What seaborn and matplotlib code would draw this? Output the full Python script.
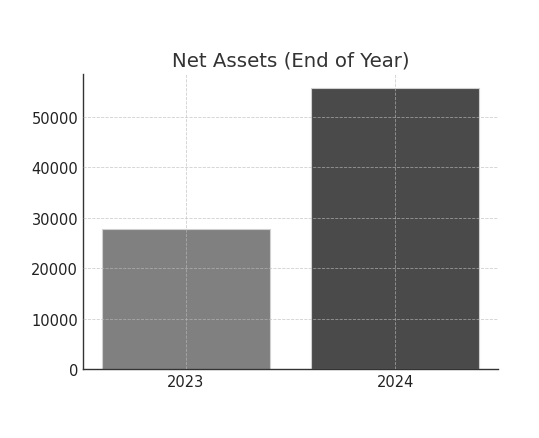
import matplotlib
matplotlib.use("Agg")
import matplotlib.pyplot as plt
import seaborn as sns
import pandas as pd

# Net assets at end of year
years = ["2023", "2024"]
net_assets = [27700, 55700]
bar_colors = ["#808080", "#4a4a4a"]

df = pd.DataFrame({"Year": years, "Net Assets": net_assets})

sns.set_style("white")
plt.rcParams['font.family'] = ['DejaVu Sans']

fig = plt.figure(figsize=(5.39, 4.39), dpi=100)
ax = fig.add_axes([0.154, 0.157, 0.77, 0.672])

sns.barplot(data=df, x="Year", y="Net Assets", hue="Year", palette=bar_colors,
            saturation=1, legend=False, width=0.8, edgecolor="#d0d0d0",
            linewidth=0.8, ax=ax)

ax.set_title("Net Assets (End of Year)", fontsize=14.2, color="#333333")
ax.set_xlabel("")
ax.set_ylabel("")
ax.set_xlim(-0.49, 1.49)

# grid over the bars, like the original
ax.set_axisbelow(False)
ax.grid(True, linestyle="--", linewidth=0.6, color="#bbbbbb", alpha=0.7)

for side in ["top", "right"]:
    ax.spines[side].set_visible(False)
for side in ["left", "bottom"]:
    ax.spines[side].set_color("#333333")
    ax.spines[side].set_linewidth(1.0)

ax.tick_params(axis="both", direction="in", length=4, labelsize=10.5,
               colors="#333333", labelcolor="#222222")

plt.savefig("out.png", dpi=100)
